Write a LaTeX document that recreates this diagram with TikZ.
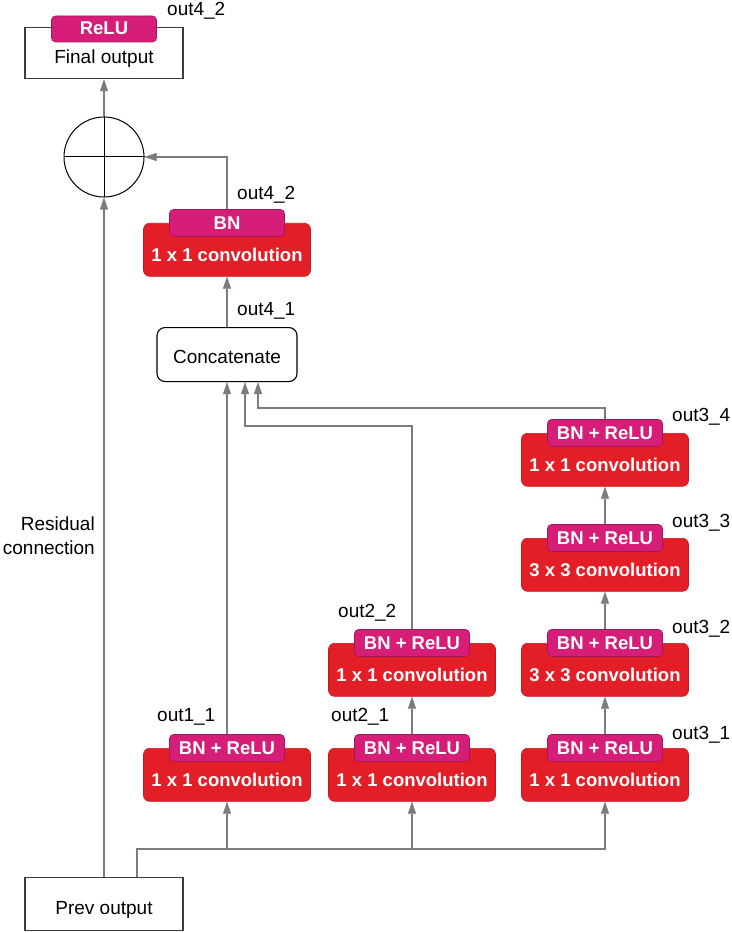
\documentclass[tikz,border=0pt]{standalone}
\usepackage{fontspec}
\setmainfont{Liberation Sans}
\usetikzlibrary{arrows.meta}

\definecolor{convred}{RGB}{228,30,38}
\definecolor{tabpink}{RGB}{214,30,120}
\definecolor{linegray}{RGB}{128,122,124}
\definecolor{boxgray}{RGB}{60,60,60}

\begin{document}
\begin{tikzpicture}[x=1pt, y=1pt,
	link/.style={draw=linegray, line width=1.2pt, -{Triangle[length=12pt,width=8pt,line width=0.4pt,fill=linegray]}},
	plainbox/.style={draw=boxgray, line width=1.1pt, minimum width=158pt, inner sep=0pt,
		text height=36pt, text depth=15pt, font=\fontsize{19}{22}\selectfont},
	convbox/.style={draw=convred!85!black, fill=convred, line width=0.6pt, rounded corners=6pt,
		minimum width=167pt, inner sep=0pt, text height=38pt, text depth=15pt, text=white,
		font=\bfseries\fontsize{18.5}{22}\selectfont},
	tabbox/.style={draw=tabpink!75!black, fill=tabpink, line width=0.6pt, rounded corners=4pt,
		minimum width=115pt, inner sep=0pt, text height=20pt, text depth=7pt, text=white,
		font=\bfseries\fontsize{18.5}{22}\selectfont},
	outlabel/.style={anchor=base west, inner sep=0pt, font=\fontsize{19}{22}\selectfont}]
	\useasboundingbox (0,0) rectangle (731,-933);

	% input, output and the sum
	\node[plainbox, anchor=north, text height=37pt, text depth=16pt] (prev) at (104,-877) {Prev output};
	\node[plainbox, anchor=north] (final) at (104,-27) {Final output};
	\node[tabbox, minimum width=105pt, text height=19pt] (relu) at ([yshift=-2pt]final.north) {ReLU};
	\node[shape=circle, draw=black, line width=1pt, minimum size=80pt, inner sep=0pt] (add) at (104,-157) {};
	\draw[black, line width=1pt] (add.north) -- (add.south) (add.west) -- (add.east);

	% concatenation and final 1x1 block
	\node[draw=black, line width=1.1pt, rounded corners=8pt, minimum width=140pt, inner sep=0pt,
		text height=36pt, text depth=18pt, font=\fontsize{19}{22}\selectfont, anchor=north] (concat) at (227,-327) {Concatenate};
	\node[convbox, anchor=north] (bn) at (227,-223) {1 x 1 convolution};
	\node[tabbox] (tbn) at (bn.north) {BN};

	% branch 1
	\node[convbox, anchor=north] (c11) at (227,-748) {1 x 1 convolution};
	\node[tabbox] (t11) at (c11.north) {BN + ReLU};

	% branch 2
	\node[convbox, anchor=north] (c21) at (412,-748) {1 x 1 convolution};
	\node[tabbox] (t21) at (c21.north) {BN + ReLU};
	\node[convbox, anchor=north] (c22) at (412,-643) {1 x 1 convolution};
	\node[tabbox] (t22) at (c22.north) {BN + ReLU};

	% branch 3
	\node[convbox, anchor=north] (c31) at (605,-748) {1 x 1 convolution};
	\node[tabbox] (t31) at (c31.north) {BN + ReLU};
	\node[convbox, anchor=north] (c32) at (605,-643) {3 x 3 convolution};
	\node[tabbox] (t32) at (c32.north) {BN + ReLU};
	\node[convbox, anchor=north] (c33) at (605,-538) {3 x 3 convolution};
	\node[tabbox] (t33) at (c33.north) {BN + ReLU};
	\node[convbox, anchor=north] (c34) at (605,-433) {1 x 1 convolution};
	\node[tabbox] (t34) at (c34.north) {BN + ReLU};

	% labels
	\node[outlabel] (lfin) at (167,-16) {out4\_2};
	\node[outlabel] (l42) at (237,-200) {out4\_2};
	\node[outlabel] (l41) at (237,-315) {out4\_1};
	\node[outlabel] (l11) at (157,-721) {out1\_1};
	\node[outlabel] (l21) at (331,-721) {out2\_1};
	\node[outlabel] (l22) at (338,-617) {out2\_2};
	\node[outlabel] (l31) at (672,-739) {out3\_1};
	\node[outlabel] (l32) at (672,-633) {out3\_2};
	\node[outlabel] (l33) at (672,-527) {out3\_3};
	\node[outlabel] (l34) at (672,-421) {out3\_4};
	\node[align=right, anchor=east, inner sep=0pt, font=\fontsize{19}{24}\selectfont] (res) at (95,-536) {Residual\\connection};

	% connections
	\coordinate (split) at (137,-849);
	\coordinate (j2) at (245,-426);
	\coordinate (j3) at (258,-408);
	\path[link] (prev) edge (add);
	\path[link] (add) edge (final);
	\draw[link] (split |- prev.north) -- (split) -| (c31.south);
	\draw[link] (split -| c11) -- (c11);
	\draw[link] (split -| c21) -- (c21);
	\path[link] (t21) edge (c22);
	\path[link] (t31) edge (c32);
	\path[link] (t32) edge (c33);
	\path[link] (t33) edge (c34);
	\path[link] (t11) edge (concat);
	\draw[link] (t22.north) |- (j2) -- (j2 |- concat.south);
	\draw[link] (t34.north) |- (j3) -- (j3 |- concat.south);
	\path[link] (concat) edge (bn);
	\draw[link] (tbn.north) |- (add.east);
\end{tikzpicture}
\end{document}
